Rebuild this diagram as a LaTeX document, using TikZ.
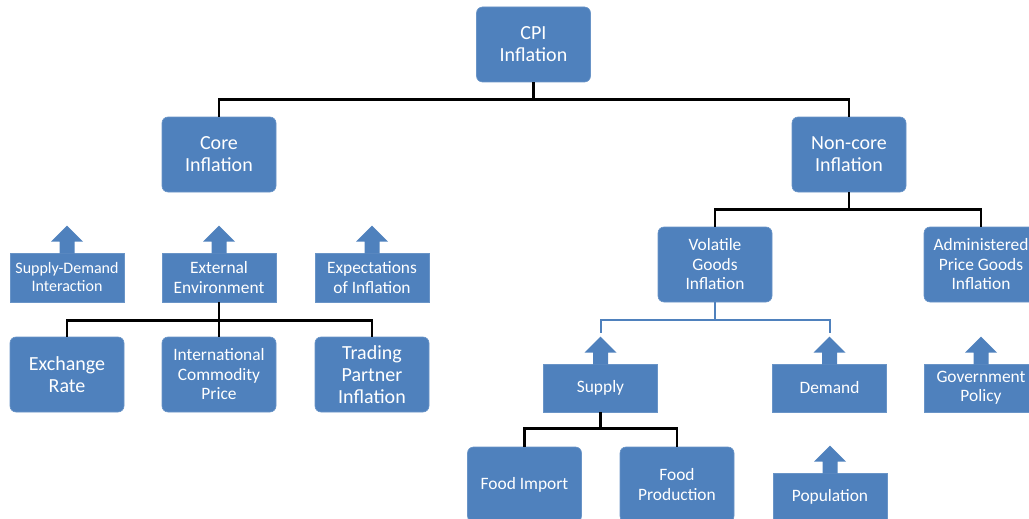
\documentclass[tikz,border=0pt]{standalone}
\usepackage{fontspec}
\setmainfont{Carlito}
\definecolor{ofblue}{HTML}{4F81BD}
\tikzset{
  base/.style={rectangle, fill=ofblue, draw=ofblue!85!white, line width=0.6pt, text=white, align=center, inner sep=1pt},
  rbox/.style={base, rounded corners=6pt, minimum width=114pt, minimum height=75pt},
  fbox/.style={base, minimum width=114pt, minimum height=49pt},
  big/.style={font=\fontsize{20}{22}\selectfont},
  med/.style={font=\fontsize{17.4}{19.5}\selectfont},
  sml/.style={font=\fontsize{16}{18}\selectfont},
  conn/.style={draw=black, line width=2.6pt},
  bconn/.style={draw=ofblue, line width=2pt},
}
\newcommand{\uparr}[1]{\fill[ofblue, shift={(#1.north)}] (-7.5,-1) -- (-7.5,11) -- (-16,11) -- (0,27) -- (16,11) -- (7.5,11) -- (7.5,-1) -- cycle;}
\begin{document}
\begin{tikzpicture}[x=1pt,y=1pt]
\useasboundingbox (0,0) rectangle (1029,-519);
\clip (0,0) rectangle (1029,-519);
% top levels
\node[rbox,big] (cpi) at (533.5,-44.5) {CPI\\Inflation};
\node[rbox,big] (core) at (219,-154.5) {Core\\Inflation};
\node[rbox,big] (noncore) at (849,-154.5) {Non-core\\Inflation};
% core side
\node[fbox,sml] (sdi) at (67,-277.5) {Supply-Demand\\Interaction};
\node[fbox,med] (ext) at (219,-277.5) {External\\Environment};
\node[fbox,med] (expt) at (372,-277.5) {Expectations\\of Inflation};
\node[rbox,big] (exr) at (67,-374.5) {Exchange\\Rate};
\node[rbox,med] (icp) at (219,-374.5) {International\\Commodity\\Price};
\node[rbox,big] (tpi) at (372,-374.5) {Trading\\Partner\\Inflation};
% non-core side
\node[rbox,med] (vgi) at (715,-264.5) {Volatile\\Goods\\Inflation};
\node[rbox,med] (apg) at (981,-264.5) {Administered\\Price Goods\\Inflation};
\node[fbox,med,minimum height=48pt] (supply) at (600.5,-388) {Supply};
\node[fbox,med,minimum height=48pt] (demand) at (829.5,-388) {Demand};
\node[fbox,med,minimum height=48pt] (gov) at (981,-388) {Government\\Policy};
\node[rbox,med] (fimp) at (524.5,-484.5) {Food Import};
\node[rbox,med] (fprod) at (677,-484.5) {Food\\Production};
\node[fbox,med,minimum height=48pt] (pop) at (830,-497) {Population};
% block arrows
\uparr{sdi}\uparr{ext}\uparr{expt}
\uparr{supply}\uparr{demand}\uparr{gov}\uparr{pop}
% connectors
\draw[conn] (cpi.south) -- ++(0,-17) coordinate (j1);
\draw[conn] (j1) -| (core.north);
\draw[conn] (j1) -| (noncore.north);
\draw[conn] (ext.south) -- ++(0,-18) coordinate (j2);
\draw[conn] (j2) -| (exr.north);
\draw[conn] (j2) -| (tpi.north);
\draw[conn] (j2) -- (icp.north);
\draw[conn] (noncore.south) -- ++(0,-17) coordinate (j3);
\draw[conn] (j3) -| (vgi.north);
\draw[conn] (j3) -| (apg.north);
\coordinate (sa) at ([yshift=31pt]supply.north);
\coordinate (da) at ([yshift=31pt]demand.north);
\draw[bconn] (vgi.south) -- ++(0,-18) coordinate (j4);
\draw[bconn] (j4) -| (sa);
\draw[bconn] (j4) -| (da);
\draw[conn] (supply.south) -- ++(0,-16) coordinate (j5);
\draw[conn] (j5) -| (fimp.north);
\draw[conn] (j5) -| (fprod.north);
\end{tikzpicture}
\end{document}
